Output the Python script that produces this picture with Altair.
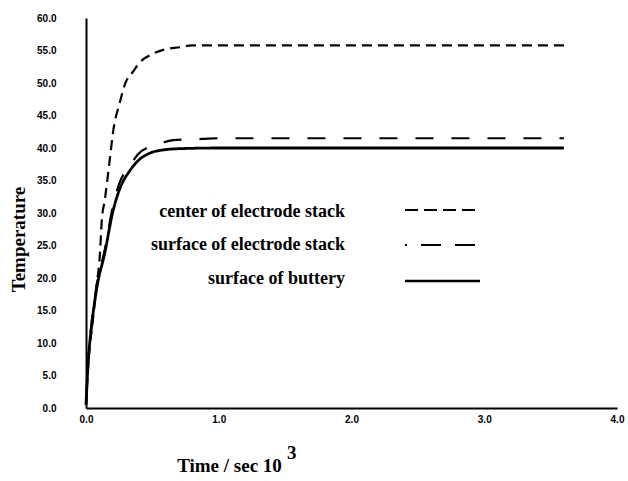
import altair as alt
import pandas as pd

# Temperature rise (deg) vs time (10^3 s) at three locations of the cell
center_t = [0.0, 0.02, 0.05, 0.08, 0.105, 0.118, 0.143, 0.175, 0.205, 0.256,
            0.293, 0.356, 0.406, 0.494, 0.581, 0.707, 0.80, 1.0, 2.0, 3.0, 3.6]
center_T = [0.5, 7.5, 13.2, 18.9, 23.7, 28.6, 32.2, 37.5, 42.6, 47.1,
            49.8, 51.8, 53.2, 54.4, 55.1, 55.5, 55.8, 55.8, 55.8, 55.8, 55.8]

surface_t = [0.0, 0.017, 0.043, 0.08, 0.143, 0.2, 0.25, 0.33, 0.39, 0.48,
             0.556, 0.656, 0.88, 1.0, 2.0, 3.0, 3.6]
surface_T = [0.5, 7.5, 13.2, 18.8, 24.5, 30.8, 34.5, 37.2, 39.0, 40.2,
             40.7, 41.2, 41.4, 41.5, 41.5, 41.5, 41.5]

battery_t = [0.0, 0.017, 0.043, 0.08, 0.143, 0.2, 0.25, 0.33, 0.39, 0.48,
             0.58, 0.71, 1.0, 2.0, 3.0, 3.6]
battery_T = [0.5, 7.2, 12.8, 18.3, 24.0, 30.0, 33.5, 36.5, 38.0, 39.2,
             39.7, 39.9, 40.0, 40.0, 40.0, 40.0]

series_names = ["center of electrode stack", "surface of electrode stack", "surface of buttery"]

x_ticks = [0, 1, 2, 3, 4]
y_ticks = [0, 5, 10, 15, 20, 25, 30, 35, 40, 45, 50, 55, 60]

W, H = 531, 390
SERIF = "Liberation Serif"
SANS = "Liberation Sans"

center_dash = [10, 6]
surface_dash = [18, 18]

x_enc = alt.X("t:Q",
              scale=alt.Scale(domain=[0, 4], nice=False, zero=False),
              axis=alt.Axis(values=x_ticks, format=".1f", title="Time / sec 10",
                            titleX=143, titleY=57, titleAlign="center",
                            titleBaseline="middle", titleFont=SERIF,
                            titleFontSize=19, titleFontWeight="bold",
                            labelPadding=6, labelFlush=False))
y_enc = alt.Y("T:Q",
              scale=alt.Scale(domain=[0, 60], nice=False),
              axis=alt.Axis(values=y_ticks, format=".1f", title="Temperature",
                            titleX=-68, titleY=221, titleAngle=270,
                            titleAlign="center", titleBaseline="middle",
                            titleFont=SERIF, titleFontSize=19,
                            titleFontWeight="bold", labelPadding=30,
                            labelFlush=False))


def curve(ts, Ts, dash, width):
    df = pd.DataFrame({"t": ts, "T": Ts})
    mark = alt.Chart(df).mark_line(color="black", strokeWidth=width,
                                   interpolate="monotone",
                                   strokeDash=dash if dash else [1, 0])
    return mark.encode(x=x_enc, y=y_enc)


one = pd.DataFrame({"k": [0]})


def label(text, y):
    return alt.Chart(one).mark_text(
        text=text, align="right", baseline="middle", font=SERIF,
        fontSize=18, fontWeight="bold", color="black"
    ).encode(x=alt.value(259), y=alt.value(y))


def sample(y, dash, width, offset=0):
    kw = dict(color="black", strokeWidth=width)
    if dash:
        kw["strokeDash"] = dash
        kw["strokeDashOffset"] = offset
    return alt.Chart(one).mark_rule(**kw).encode(
        x=alt.value(319), x2=alt.value(394), y=alt.value(y))


sup = alt.Chart(one).mark_text(
    text="3", align="left", baseline="middle", font=SERIF, fontSize=19,
    fontWeight="bold", color="black"
).encode(x=alt.value(201), y=alt.value(435))

chart = alt.layer(
    curve(center_t, center_T, center_dash, 2.2),
    curve(surface_t, surface_T, surface_dash, 2.2),
    curve(battery_t, battery_T, None, 2.8),
    label(series_names[0], 194),
    label(series_names[1], 227),
    label(series_names[2], 261),
    sample(192, [13, 6], 2.2),
    sample(227, [20, 14], 2.2, 18),
    sample(263, None, 2.4),
    sup,
).properties(
    width=W, height=H,
    autosize=alt.AutoSizeParams(type="none"),
    padding={"left": 86, "top": 18, "right": 11, "bottom": 73},
    background="white",
).configure_view(stroke=None).configure_axis(
    grid=False, ticks=False, domainColor="black", domainWidth=2,
    labelFont=SANS, labelFontSize=10, labelFontWeight="bold",
    labelColor="black", titleColor="black",
)

chart.save("out.html", embed_options={"renderer": "svg", "actions": False})
